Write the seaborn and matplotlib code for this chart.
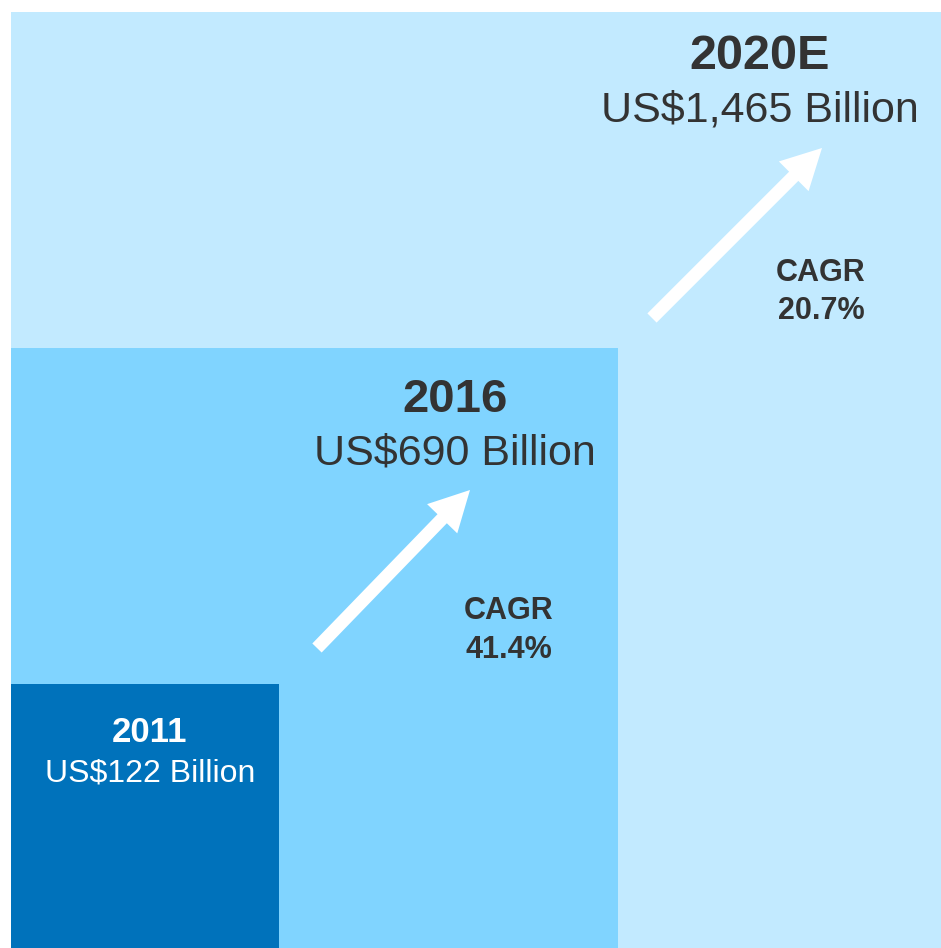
import matplotlib
matplotlib.use("Agg")
import matplotlib.pyplot as plt
import seaborn as sns
from matplotlib.patches import FancyArrow

sns.set_theme(style="white")
plt.rcParams['font.family'] = ['Liberation Sans', 'DejaVu Sans']

# ---- data ----
years = ['2011', '2016', '2020E']
values = [122, 690, 1465]          # US$ billion
cagr = [41.4, 20.7]                # 2011->2016, 2016->2020E
box_colors = ['#0072BB', '#80D4FF', '#C2EAFF']
text_colors = ['white', '#333333', '#333333']

# ---- layout (pixel-like data units) ----
W, H = 941, 948
left = 11
box_w = [268, 607, 930]
box_h = [264, 600, 936]
label_x = [150, 455, 760]
year_base = [742, 411.5, 69]        # from top
value_base = [782, 464, 121.5]
year_size = [25, 34, 35]
value_size = [23, 31, 31]
cagr_x = [509, 821]
cagr_base1 = [619, 281]
cagr_base2 = [658, 319]
arrows = [((317, 648), (470, 490)), ((652, 318), (822, 148))]

fig = plt.figure(figsize=(W / 100, H / 100), dpi=100)
ax = fig.add_axes([0, 0, 1, 1])
ax.set_xlim(0, W)
ax.set_ylim(0, H)
ax.axis('off')
fig.patch.set_facecolor('white')

# boxes: largest first
for i in [2, 1, 0]:
    ax.bar(left, box_h[i], width=box_w[i], bottom=0, align='edge',
           color=box_colors[i], edgecolor='none', linewidth=0)

def Y(y):
    return H - y

for i in range(3):
    ax.text(label_x[i], Y(year_base[i]), years[i], ha='center', va='baseline',
            fontsize=year_size[i], fontweight='bold', color=text_colors[i])
    ax.text(label_x[i], Y(value_base[i]), f"US${values[i]:,} Billion",
            ha='center', va='baseline', fontsize=value_size[i],
            color=text_colors[i])

for j in range(2):
    ax.text(cagr_x[j], Y(cagr_base1[j]), "CAGR", ha='center', va='baseline',
            fontsize=22, fontweight='bold', color='#333333')
    ax.text(cagr_x[j], Y(cagr_base2[j]), f"{cagr[j]}%", ha='center',
            va='baseline', fontsize=22, fontweight='bold', color='#333333')
    (x0, y0), (x1, y1) = arrows[j]
    ax.add_patch(FancyArrow(x0, Y(y0), x1 - x0, Y(y1) - Y(y0), width=13,
                            head_width=42, head_length=40,
                            length_includes_head=True, color='white', lw=0))

fig.savefig('out.png', dpi=100)
